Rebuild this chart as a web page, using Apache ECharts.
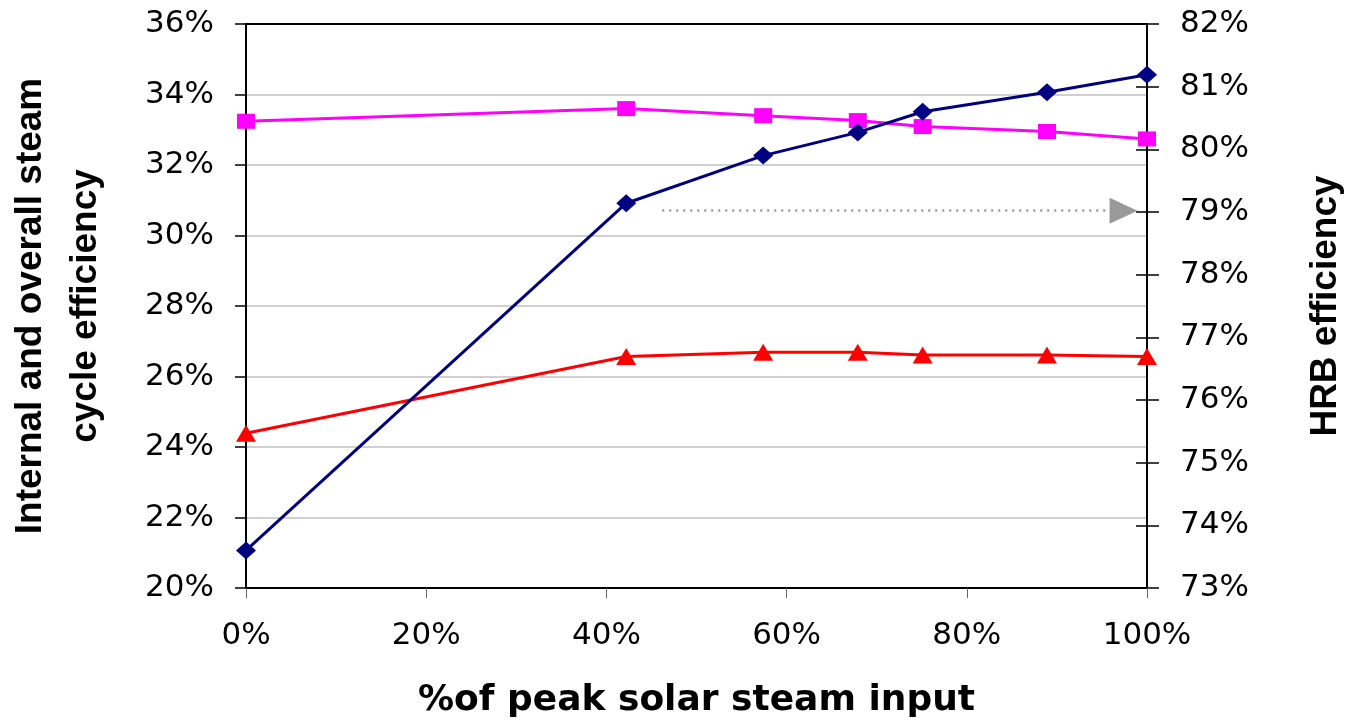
<!DOCTYPE html>
<html>
<head>
<meta charset="utf-8">
<title>Steam cycle and HRB efficiency vs solar steam input</title>
<script src="https://cdn.jsdelivr.net/npm/echarts@6/dist/echarts.min.js"></script>
<style>
  html, body { margin: 0; padding: 0; background: #fff; }
  #chart { width: 1349px; height: 724px; }
</style>
</head>
<body>
<div id="chart"></div>
<script>
// % of peak solar steam input (x positions of the operating points)
const solarInput = [0, 42.2, 57.4, 67.9, 75.1, 88.9, 100];

// Internal steam cycle efficiency, % (left axis)
const internalEff = [33.24, 33.60, 33.40, 33.26, 33.09, 32.95, 32.74];
// Overall steam cycle efficiency, % (left axis)
const overallEff = [24.39, 26.57, 26.69, 26.69, 26.61, 26.61, 26.57];
// HRB efficiency, % (right axis)
const hrbEff = [73.60, 79.14, 79.90, 80.27, 80.60, 80.91, 81.19];

// Axis ranges and tick steps
const xTicks = { min: 0, max: 100, step: 20 };
const leftTicks = { min: 20, max: 36, step: 2 };
const rightTicks = { min: 73, max: 82, step: 1 };

// Arrow pointing the HRB curve to its axis (x from/to, y on the right axis)
const arrowFrom = [46.2, 79.02];
const arrowTo = [97.4, 79.02];

const pairs = (xs, ys) => xs.map((x, i) => [x, ys[i]]);

const FONT = 'DejaVu Sans';
const TITLE_FONT = 'Liberation Sans';
const tickLabel = { fontFamily: FONT, fontSize: 31, color: '#000', formatter: '{value}%' };
const blackLine = { show: true, onZero: false, lineStyle: { color: '#000', width: 2 } };

const chart = echarts.init(document.getElementById('chart'), null, { renderer: 'canvas' });

chart.setOption({
  animation: false,
  backgroundColor: '#fff',
  grid: {
    left: 246, right: 202, top: 24, bottom: 136,
    containLabel: false,
    outerBoundsMode: 'none',
    show: true, borderColor: '#000', borderWidth: 2, backgroundColor: 'transparent'
  },
  xAxis: [
    {
      type: 'value',
      position: 'bottom',
      min: xTicks.min, max: xTicks.max, interval: xTicks.step,
      name: '%of peak solar steam input',
      nameLocation: 'middle',
      nameGap: 95,
      nameTextStyle: { fontFamily: FONT, fontWeight: 'bold', fontSize: 36, color: '#000' },
      axisLine: blackLine,
      axisTick: { show: true, inside: false, length: 10, lineStyle: { color: '#666', width: 1 } },
      axisLabel: Object.assign({ margin: 32 }, tickLabel),
      splitLine: { show: false }
    },
    {
      // top frame line of the plot area
      type: 'value',
      position: 'top',
      min: xTicks.min, max: xTicks.max, interval: xTicks.step,
      axisLine: blackLine,
      axisTick: { show: false },
      axisLabel: { show: false },
      splitLine: { show: false }
    }
  ],
  yAxis: [
    {
      type: 'value',
      position: 'left',
      min: leftTicks.min, max: leftTicks.max, interval: leftTicks.step,
      name: 'Internal and overall steam\ncycle efficiency',
      nameLocation: 'middle',
      nameRotate: 90,
      nameGap: 133,
      nameTextStyle: { fontFamily: TITLE_FONT, fontWeight: 'bold', fontSize: 37, lineHeight: 55, color: '#000', align: 'center' },
      axisLine: blackLine,
      axisTick: { show: true, inside: false, length: 11, lineStyle: { color: '#000', width: 1.5 } },
      axisLabel: Object.assign({ margin: 32 }, tickLabel),
      splitLine: { show: true, showMinLine: false, showMaxLine: false, lineStyle: { color: '#c0c0c0', width: 1.5 } }
    },
    {
      type: 'value',
      position: 'right',
      min: rightTicks.min, max: rightTicks.max, interval: rightTicks.step,
      name: 'HRB efficiency',
      nameLocation: 'middle',
      nameRotate: 90,
      nameGap: 159,
      nameTextStyle: { fontFamily: TITLE_FONT, fontWeight: 'bold', fontSize: 37, lineHeight: 40, color: '#000' },
      axisLine: blackLine,
      axisTick: { show: true, inside: false, length: 12, lineStyle: { color: '#000', width: 1.5 } },
      axisLabel: Object.assign({ margin: 33 }, tickLabel),
      splitLine: { show: false }
    },
    {
      // inner half of the right-axis cross ticks
      type: 'value',
      position: 'right',
      min: rightTicks.min, max: rightTicks.max, interval: rightTicks.step,
      axisLine: { show: false, onZero: false },
      axisTick: { show: true, inside: true, length: 11, lineStyle: { color: '#000', width: 1.5 } },
      axisLabel: { show: false },
      splitLine: { show: false }
    }
  ],
  series: [
    {
      name: 'Internal steam cycle efficiency',
      type: 'line',
      yAxisIndex: 0,
      data: pairs(solarInput, internalEff),
      symbol: 'rect',
      symbolSize: [18, 15],
      lineStyle: { color: '#ff00ff', width: 3 },
      itemStyle: { color: '#ff00ff' }
    },
    {
      name: 'Overall steam cycle efficiency',
      type: 'line',
      yAxisIndex: 0,
      data: pairs(solarInput, overallEff),
      symbol: 'triangle',
      symbolSize: [20, 17],
      lineStyle: { color: '#ff0000', width: 3 },
      itemStyle: { color: '#ff0000' }
    },
    {
      name: 'HRB efficiency',
      type: 'line',
      yAxisIndex: 1,
      data: pairs(solarInput, hrbEff),
      symbol: 'diamond',
      symbolSize: [20, 18],
      lineStyle: { color: '#000080', width: 3 },
      itemStyle: { color: '#000080' },
      markLine: {
        silent: true,
        symbol: ['none', 'triangle'],
        symbolSize: [26, 28],
        label: { show: false },
        lineStyle: { color: '#999999', width: 2.5, type: [2, 5] },
        itemStyle: { color: '#999999' },
        data: [[{ coord: arrowFrom }, { coord: arrowTo }]]
      }
    }
  ]
});
</script>
</body>
</html>
